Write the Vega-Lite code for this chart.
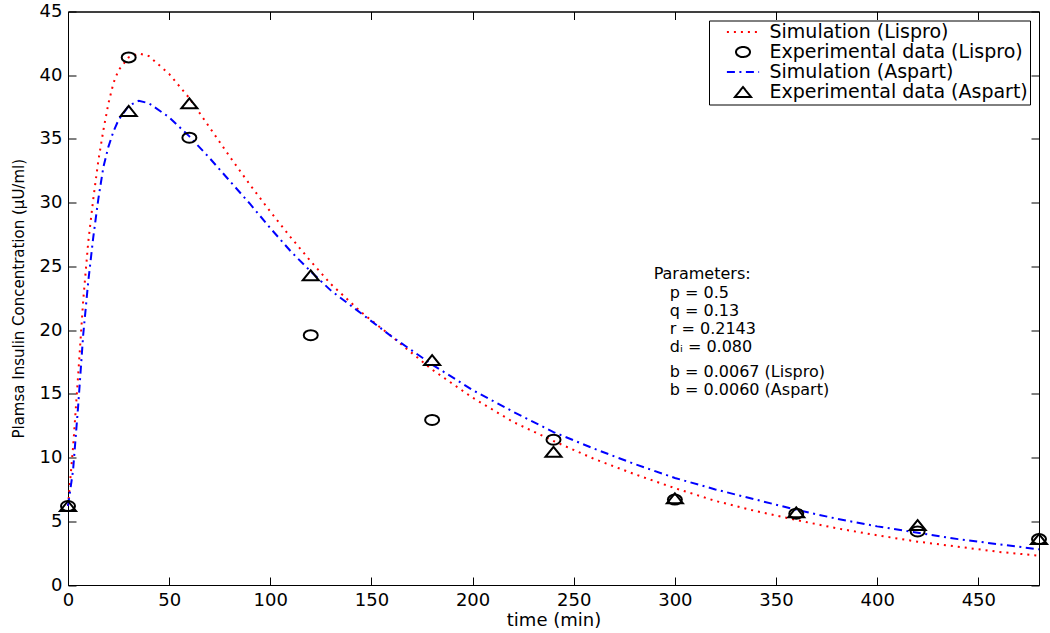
{
  "$schema": "https://vega.github.io/schema/vega-lite/v6.json",
  "width": 971,
  "height": 573.5,
  "autosize": {"type": "none"},
  "padding": {"left": 68, "top": 11.5, "right": 11, "bottom": 48},
  "background": "white",
  "config": {
    "view": {"stroke": "black", "strokeWidth": 1},
    "font": "DejaVu Sans",
    "axis": {
      "grid": false,
      "domainColor": "black",
      "tickColor": "black",
      "labelColor": "black",
      "titleColor": "black",
      "labelFont": "DejaVu Sans",
      "labelFontSize": 18,
      "titleFont": "DejaVu Sans",
      "titleFontWeight": "normal",
      "tickSize": -8,
      "tickWidth": 1,
      "domainWidth": 1,
      "labelFlush": false,
      "labelOverlap": false
    },
    "legend": {
      "orient": "top-right",
      "offset": 9,
      "strokeColor": "black",
      "fillColor": "white",
      "padding": 2,
      "labelFont": "DejaVu Sans",
      "labelFontSize": 19,
      "labelColor": "black",
      "symbolSize": 49,
      "symbolStrokeWidth": 2,
      "rowPadding": -0.3,
      "labelOffset": 17,
      "symbolOffset": 22.5,
      "labelLimit": 400,
      "labelExpr": "datum.label + '\u2002'"
    }
  },
  "datasets": {
    "sim": [
      {"t": 0, "c": 6.2, "series": "Simulation (Lispro)"},
      {"t": 2.5, "c": 10.8, "series": "Simulation (Lispro)"},
      {"t": 5, "c": 16.4, "series": "Simulation (Lispro)"},
      {"t": 7.5, "c": 22.3, "series": "Simulation (Lispro)"},
      {"t": 10, "c": 26.9, "series": "Simulation (Lispro)"},
      {"t": 12.5, "c": 30.3, "series": "Simulation (Lispro)"},
      {"t": 15, "c": 33.3, "series": "Simulation (Lispro)"},
      {"t": 17.5, "c": 35.7, "series": "Simulation (Lispro)"},
      {"t": 20, "c": 37.8, "series": "Simulation (Lispro)"},
      {"t": 22.5, "c": 39.4, "series": "Simulation (Lispro)"},
      {"t": 25, "c": 40.4, "series": "Simulation (Lispro)"},
      {"t": 30, "c": 41.4, "series": "Simulation (Lispro)"},
      {"t": 35, "c": 41.7, "series": "Simulation (Lispro)"},
      {"t": 40, "c": 41.5, "series": "Simulation (Lispro)"},
      {"t": 50, "c": 40.1, "series": "Simulation (Lispro)"},
      {"t": 60, "c": 38.2, "series": "Simulation (Lispro)"},
      {"t": 70, "c": 35.9, "series": "Simulation (Lispro)"},
      {"t": 80, "c": 33.6, "series": "Simulation (Lispro)"},
      {"t": 90, "c": 31.4, "series": "Simulation (Lispro)"},
      {"t": 100, "c": 29.3, "series": "Simulation (Lispro)"},
      {"t": 110, "c": 27.3, "series": "Simulation (Lispro)"},
      {"t": 120, "c": 25.4, "series": "Simulation (Lispro)"},
      {"t": 130, "c": 23.6, "series": "Simulation (Lispro)"},
      {"t": 145, "c": 21.4, "series": "Simulation (Lispro)"},
      {"t": 160, "c": 19.5, "series": "Simulation (Lispro)"},
      {"t": 180, "c": 16.9, "series": "Simulation (Lispro)"},
      {"t": 200, "c": 14.7, "series": "Simulation (Lispro)"},
      {"t": 220, "c": 12.8, "series": "Simulation (Lispro)"},
      {"t": 240, "c": 11.3, "series": "Simulation (Lispro)"},
      {"t": 260, "c": 9.9, "series": "Simulation (Lispro)"},
      {"t": 280, "c": 8.7, "series": "Simulation (Lispro)"},
      {"t": 300, "c": 7.6, "series": "Simulation (Lispro)"},
      {"t": 320, "c": 6.6, "series": "Simulation (Lispro)"},
      {"t": 340, "c": 5.8, "series": "Simulation (Lispro)"},
      {"t": 360, "c": 5.1, "series": "Simulation (Lispro)"},
      {"t": 380, "c": 4.45, "series": "Simulation (Lispro)"},
      {"t": 400, "c": 3.9, "series": "Simulation (Lispro)"},
      {"t": 420, "c": 3.4, "series": "Simulation (Lispro)"},
      {"t": 440, "c": 3.0, "series": "Simulation (Lispro)"},
      {"t": 460, "c": 2.6, "series": "Simulation (Lispro)"},
      {"t": 480, "c": 2.3, "series": "Simulation (Lispro)"},
      {"t": 0, "c": 6.2, "series": "Simulation (Aspart)"},
      {"t": 2.5, "c": 9.0, "series": "Simulation (Aspart)"},
      {"t": 5, "c": 14.0, "series": "Simulation (Aspart)"},
      {"t": 7.5, "c": 19.6, "series": "Simulation (Aspart)"},
      {"t": 10, "c": 23.8, "series": "Simulation (Aspart)"},
      {"t": 12.5, "c": 27.3, "series": "Simulation (Aspart)"},
      {"t": 15, "c": 30.3, "series": "Simulation (Aspart)"},
      {"t": 17.5, "c": 32.8, "series": "Simulation (Aspart)"},
      {"t": 20, "c": 34.4, "series": "Simulation (Aspart)"},
      {"t": 22.5, "c": 35.6, "series": "Simulation (Aspart)"},
      {"t": 25, "c": 36.5, "series": "Simulation (Aspart)"},
      {"t": 30, "c": 37.6, "series": "Simulation (Aspart)"},
      {"t": 35, "c": 38.0, "series": "Simulation (Aspart)"},
      {"t": 40, "c": 37.8, "series": "Simulation (Aspart)"},
      {"t": 50, "c": 36.7, "series": "Simulation (Aspart)"},
      {"t": 60, "c": 35.2, "series": "Simulation (Aspart)"},
      {"t": 70, "c": 33.5, "series": "Simulation (Aspart)"},
      {"t": 80, "c": 31.7, "series": "Simulation (Aspart)"},
      {"t": 90, "c": 29.9, "series": "Simulation (Aspart)"},
      {"t": 100, "c": 28.0, "series": "Simulation (Aspart)"},
      {"t": 110, "c": 26.2, "series": "Simulation (Aspart)"},
      {"t": 120, "c": 24.6, "series": "Simulation (Aspart)"},
      {"t": 130, "c": 23.1, "series": "Simulation (Aspart)"},
      {"t": 145, "c": 21.3, "series": "Simulation (Aspart)"},
      {"t": 160, "c": 19.5, "series": "Simulation (Aspart)"},
      {"t": 180, "c": 17.3, "series": "Simulation (Aspart)"},
      {"t": 200, "c": 15.3, "series": "Simulation (Aspart)"},
      {"t": 220, "c": 13.6, "series": "Simulation (Aspart)"},
      {"t": 240, "c": 12.0, "series": "Simulation (Aspart)"},
      {"t": 260, "c": 10.7, "series": "Simulation (Aspart)"},
      {"t": 280, "c": 9.5, "series": "Simulation (Aspart)"},
      {"t": 300, "c": 8.4, "series": "Simulation (Aspart)"},
      {"t": 320, "c": 7.5, "series": "Simulation (Aspart)"},
      {"t": 340, "c": 6.7, "series": "Simulation (Aspart)"},
      {"t": 360, "c": 5.9, "series": "Simulation (Aspart)"},
      {"t": 380, "c": 5.2, "series": "Simulation (Aspart)"},
      {"t": 400, "c": 4.6, "series": "Simulation (Aspart)"},
      {"t": 420, "c": 4.1, "series": "Simulation (Aspart)"},
      {"t": 440, "c": 3.6, "series": "Simulation (Aspart)"},
      {"t": 460, "c": 3.2, "series": "Simulation (Aspart)"},
      {"t": 480, "c": 2.8, "series": "Simulation (Aspart)"}
    ],
    "exp": [
      {"t": 0, "c": 6.2, "series": "Experimental data (Lispro)"},
      {"t": 30, "c": 41.4, "series": "Experimental data (Lispro)"},
      {"t": 60, "c": 35.1, "series": "Experimental data (Lispro)"},
      {"t": 120, "c": 19.6, "series": "Experimental data (Lispro)"},
      {"t": 180, "c": 12.95, "series": "Experimental data (Lispro)"},
      {"t": 240, "c": 11.4, "series": "Experimental data (Lispro)"},
      {"t": 300, "c": 6.7, "series": "Experimental data (Lispro)"},
      {"t": 360, "c": 5.6, "series": "Experimental data (Lispro)"},
      {"t": 420, "c": 4.2, "series": "Experimental data (Lispro)"},
      {"t": 480, "c": 3.6, "series": "Experimental data (Lispro)"},
      {"t": 0, "c": 6.2, "series": "Experimental data (Aspart)"},
      {"t": 30, "c": 37.2, "series": "Experimental data (Aspart)"},
      {"t": 60, "c": 37.8, "series": "Experimental data (Aspart)"},
      {"t": 120, "c": 24.3, "series": "Experimental data (Aspart)"},
      {"t": 180, "c": 17.65, "series": "Experimental data (Aspart)"},
      {"t": 240, "c": 10.45, "series": "Experimental data (Aspart)"},
      {"t": 300, "c": 6.8, "series": "Experimental data (Aspart)"},
      {"t": 360, "c": 5.7, "series": "Experimental data (Aspart)"},
      {"t": 420, "c": 4.7, "series": "Experimental data (Aspart)"},
      {"t": 480, "c": 3.6, "series": "Experimental data (Aspart)"}
    ],
    "params": [
      {"t": 289.5, "c": 24.4, "label": "Parameters:"},
      {"t": 297.5, "c": 22.92, "label": "p = 0.5"},
      {"t": 297.5, "c": 21.5, "label": "q = 0.13"},
      {"t": 297.5, "c": 20.09, "label": "r = 0.2143"},
      {"t": 297.5, "c": 18.68, "label": "dᵢ = 0.080"},
      {"t": 297.5, "c": 16.72, "label": "b = 0.0067 (Lispro)"},
      {"t": 297.5, "c": 15.31, "label": "b = 0.0060 (Aspart)"}
    ]
  },
  "layer": [
    {
      "data": {"name": "sim"},
      "mark": {"type": "line", "strokeWidth": 2, "strokeCap": "butt", "clip": false},
      "encoding": {
        "x": {
          "field": "t", "type": "quantitative",
          "scale": {"domain": [0, 480], "nice": false, "zero": false},
          "axis": {
            "orient": "bottom",
            "values": [0, 50, 100, 150, 200, 250, 300, 350, 400, 450],
            "title": "time (min)",
            "titleFontSize": 18,
            "labelPadding": 14,
            "titlePadding": 2
          }
        },
        "y": {
          "field": "c", "type": "quantitative",
          "scale": {"domain": [0, 45], "nice": false},
          "axis": {
            "orient": "left",
            "values": [0, 5, 10, 15, 20, 25, 30, 35, 40, 45],
            "title": "Plamsa Insulin Concentration (μU/ml)",
            "titleFontSize": 15,
            "labelPadding": 14,
            "titlePadding": 13
          }
        },
        "color": {
          "field": "series", "type": "nominal",
          "scale": {
            "domain": ["Simulation (Lispro)", "Experimental data (Lispro)", "Simulation (Aspart)", "Experimental data (Aspart)"],
            "range": ["#ff0000", "#000000", "#0000ff", "#000000"]
          },
          "legend": {"title": null}
        },
        "strokeDash": {
          "field": "series", "type": "nominal",
          "scale": {
            "domain": ["Simulation (Lispro)", "Experimental data (Lispro)", "Simulation (Aspart)", "Experimental data (Aspart)"],
            "range": [[2, 5], [1, 0], [8, 4.5, 2, 4.5], [1, 0]]
          },
          "legend": {"title": null}
        }
      }
    },
    {
      "data": {"name": "exp"},
      "mark": {"type": "point", "filled": false, "strokeWidth": 2, "size": 49, "opacity": 1, "clip": false},
      "encoding": {
        "x": {
          "field": "t", "type": "quantitative",
          "axis": {"orient": "top", "labels": false, "title": null, "values": [0, 50, 100, 150, 200, 250, 300, 350, 400, 450]}
        },
        "y": {
          "field": "c", "type": "quantitative",
          "axis": {"orient": "right", "labels": false, "title": null, "values": [0, 5, 10, 15, 20, 25, 30, 35, 40, 45]}
        },
        "color": {
          "field": "series", "type": "nominal",
          "scale": {
            "domain": ["Simulation (Lispro)", "Experimental data (Lispro)", "Simulation (Aspart)", "Experimental data (Aspart)"],
            "range": ["#ff0000", "#000000", "#0000ff", "#000000"]
          },
          "legend": {"title": null}
        },
        "shape": {
          "field": "series", "type": "nominal",
          "scale": {
            "domain": ["Simulation (Lispro)", "Experimental data (Lispro)", "Simulation (Aspart)", "Experimental data (Aspart)"],
            "range": ["M-4.6,0H4.6", "M-2,0A2,1.43,0,1,0,2,0A2,1.43,0,1,0,-2,0Z", "M-4.6,0H4.6", "M-2.29,1.43L2.29,1.43L0,-1.43Z"]
          },
          "legend": {"title": null}
        }
      }
    },
    {
      "data": {"name": "params"},
      "mark": {"type": "text", "align": "left", "baseline": "middle", "font": "DejaVu Sans", "fontSize": 16, "color": "black"},
      "encoding": {
        "x": {"field": "t", "type": "quantitative", "axis": null},
        "y": {"field": "c", "type": "quantitative", "axis": null},
        "text": {"field": "label", "type": "nominal"}
      }
    }
  ],
  "resolve": {"axis": {"x": "independent", "y": "independent"}}
}
